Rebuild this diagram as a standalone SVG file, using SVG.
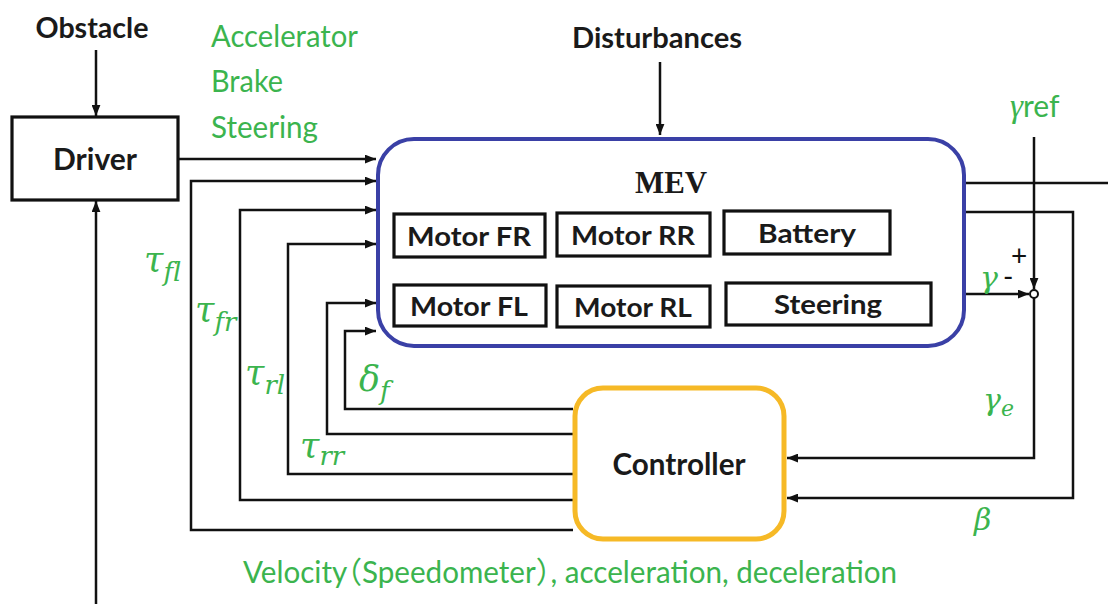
<svg xmlns="http://www.w3.org/2000/svg" width="1108" height="604" viewBox="0 0 1108 604">
<style>
.bk{font-family:Lato,"Open Sans","Liberation Sans",sans-serif;font-weight:bold;fill:#1a1a1a}
.gr{font-family:Lato,"Open Sans","Noto Sans CJK JP",sans-serif;fill:#3bb44e}
.m{font-family:"DejaVu Serif","Liberation Serif",serif;font-style:italic;fill:#3bb44e;font-variant-ligatures:none;font-feature-settings:"liga" 0}
.ln{fill:none;stroke:#111;stroke-width:2.5}
.box{fill:#fff;stroke:#111;stroke-width:3.2}
</style>
<defs>
<marker id="ah" viewBox="0 0 10 8" refX="10" refY="4" markerWidth="11" markerHeight="9" markerUnits="userSpaceOnUse" orient="auto"><path d="M0,0 L10,4 L0,8 z" fill="#111"/></marker>
</defs>
<rect width="1108" height="604" fill="#fff"/>

<g id="connectors">
<path class="ln" d="M96,50 V116" marker-end="url(#ah)"/>
<path class="ln" d="M96,604 V201" marker-end="url(#ah)"/>
<path class="ln" d="M660,62 V135" marker-end="url(#ah)"/>
<path class="ln" d="M178,159 H376" marker-end="url(#ah)"/>
<path class="ln" d="M573,530 H191 V181 H376" marker-end="url(#ah)"/>
<path class="ln" d="M573,500 H240 V210 H376" marker-end="url(#ah)"/>
<path class="ln" d="M573,474 H288 V244 H376" marker-end="url(#ah)"/>
<path class="ln" d="M573,434 H327 V303 H376" marker-end="url(#ah)"/>
<path class="ln" d="M573,409 H345 V331 H376" marker-end="url(#ah)"/>
<path class="ln" d="M965,183 H1108"/>
<path class="ln" d="M965,212 H1073 V498 H787" marker-end="url(#ah)"/>
<path class="ln" d="M965,294 H1029" marker-end="url(#ah)"/>
<path class="ln" d="M1034,137 V289" marker-end="url(#ah)"/>
<path class="ln" d="M1034,298 V458 H787" marker-end="url(#ah)"/>
<circle cx="1034" cy="294" r="4" fill="#fff" stroke="#111" stroke-width="2"/>
</g>

<g id="obstacle"><text class="bk" x="92" y="38" font-size="29" text-anchor="middle" textLength="113" lengthAdjust="spacingAndGlyphs">Obstacle</text></g>
<g id="disturbances"><text class="bk" x="657" y="48" font-size="29" text-anchor="middle" textLength="170" lengthAdjust="spacingAndGlyphs">Disturbances</text></g>

<g id="driver">
<rect class="box" x="12" y="117" width="166" height="83"/>
<text class="bk" x="95" y="170" font-size="30" text-anchor="middle" textLength="84" lengthAdjust="spacingAndGlyphs">Driver</text>
</g>

<g id="driver-labels">
<text class="gr" x="211" y="47" font-size="31" textLength="147" lengthAdjust="spacingAndGlyphs">Accelerator</text>
<text class="gr" x="211" y="92" font-size="31" textLength="72" lengthAdjust="spacingAndGlyphs">Brake</text>
<text class="gr" x="211" y="138" font-size="31" textLength="107" lengthAdjust="spacingAndGlyphs">Steering</text>
</g>

<g id="mev">
<rect x="378" y="139" width="586" height="207" rx="36" fill="#fff" stroke="#3a40a6" stroke-width="4"/>
<text x="671" y="193" font-family="'Liberation Serif',serif" font-weight="bold" font-size="32" text-anchor="middle" fill="#1a1a1a" textLength="72" lengthAdjust="spacingAndGlyphs">MEV</text>
</g>

<g id="motor-fr"><rect class="box" x="394" y="214" width="151" height="43"/><text class="bk" x="469" y="246" font-size="27" text-anchor="middle" textLength="124" lengthAdjust="spacingAndGlyphs">Motor FR</text></g>
<g id="motor-rr"><rect class="box" x="557" y="213" width="153" height="43"/><text class="bk" x="633" y="245" font-size="27" text-anchor="middle" textLength="124" lengthAdjust="spacingAndGlyphs">Motor RR</text></g>
<g id="battery"><rect class="box" x="724" y="211" width="166" height="43"/><text class="bk" x="807" y="243" font-size="27" text-anchor="middle" textLength="98" lengthAdjust="spacingAndGlyphs">Battery</text></g>
<g id="motor-fl"><rect class="box" x="394" y="285" width="152" height="41"/><text class="bk" x="469" y="316" font-size="27" text-anchor="middle" textLength="118" lengthAdjust="spacingAndGlyphs">Motor FL</text></g>
<g id="motor-rl"><rect class="box" x="557" y="286" width="153" height="41"/><text class="bk" x="633" y="317" font-size="27" text-anchor="middle" textLength="118" lengthAdjust="spacingAndGlyphs">Motor RL</text></g>
<g id="steering"><rect class="box" x="726" y="283" width="205" height="42"/><text class="bk" x="828" y="314" font-size="27" text-anchor="middle" textLength="108" lengthAdjust="spacingAndGlyphs">Steering</text></g>

<g id="controller">
<rect x="575" y="388" width="209" height="151" rx="28" fill="#fff" stroke="#f6b926" stroke-width="5"/>
<text class="bk" x="679" y="475" font-size="30" text-anchor="middle" textLength="133" lengthAdjust="spacingAndGlyphs">Controller</text>
</g>

<g id="signal-labels">
<text class="m" x="144" y="272" font-size="35">τ<tspan font-size="26" dy="9">fl</tspan></text>
<text class="m" x="195" y="322" font-size="35">τ<tspan font-size="26" dy="9">fr</tspan></text>
<text class="m" x="245" y="385" font-size="35">τ<tspan font-size="26" dy="9">rl</tspan></text>
<text class="m" x="300" y="458" font-size="35">τ<tspan font-size="26" dy="7">rr</tspan></text>
<text class="m" x="359" y="391" font-size="35">δ<tspan font-size="26" dy="9">f</tspan></text>
<text class="m" x="980" y="288" font-size="30">γ</text>
<text x="1003" y="287" font-family="Lato,sans-serif" font-size="28" fill="#111">-</text>
<text x="1011" y="266" font-family="Lato,sans-serif" font-size="28" fill="#111">+</text>
<text x="1010" y="117" font-size="30" fill="#3bb44e" font-family="Lato,sans-serif"><tspan font-family="'Liberation Serif',serif" font-style="italic" font-size="33">γ</tspan>ref</text>
<text class="m" x="983" y="410" font-size="30">γ<tspan font-size="22" dy="6">e</tspan></text>
<text class="m" x="974" y="530" font-size="30">β</text>
<text class="gr" x="243" y="583" font-size="30" style="font-feature-settings:'halt' 1" textLength="654" lengthAdjust="spacingAndGlyphs">Velocity（Speedometer）, acceleration, deceleration</text>
</g>
</svg>
